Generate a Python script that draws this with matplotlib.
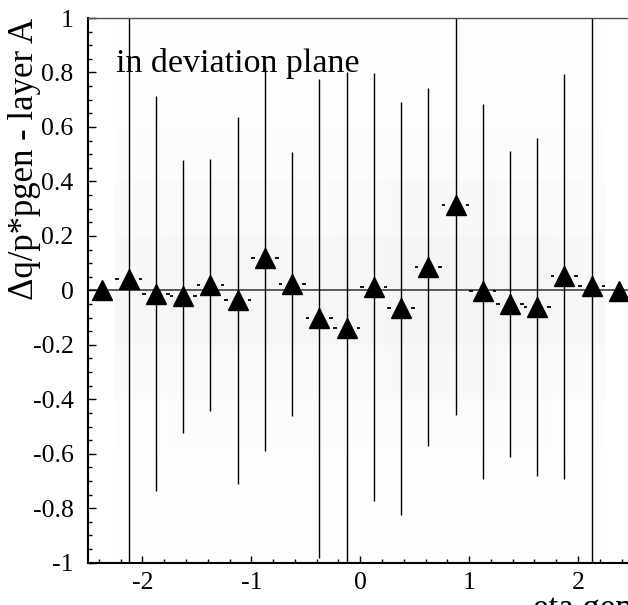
"""Profile of charge/momentum deviation vs generated eta, layer A.
"""
import matplotlib
matplotlib.use('agg')
import matplotlib.pyplot as plt
from matplotlib.ticker import MultipleLocator, FuncFormatter
from matplotlib.colors import LinearSegmentedColormap
import numpy as np

plt.rcParams['font.family'] = ['Liberation Serif', 'DejaVu Serif']
plt.rcParams['axes.unicode_minus'] = False

# profile bins (eta gen)
eta_centers = [-2.375, -2.125, -1.875, -1.625, -1.375, -1.125, -0.875, -0.625,
               -0.375, -0.125, 0.125, 0.375, 0.625, 0.875, 1.125, 1.375,
               1.625, 1.875, 2.125, 2.375]
bin_half_width = 0.125
dq_mean = [0.0, 0.04, -0.012, -0.022, 0.021, -0.037, 0.118, 0.024,
           -0.103, -0.140, 0.012, -0.066, 0.086, 0.315, -0.004, -0.051,
           -0.061, 0.051, 0.017, -0.001]
dq_spread = [0.0, 1.2, 0.726, 0.501, 0.463, 0.675, 0.707, 0.484,
             0.88, 0.94, 0.786, 0.759, 0.657, 0.773, 0.69, 0.561,
             0.619, 0.744, 1.2, 0.0]

# faint scatter underneath, as rough relative density per cell
dens_eta_edges = [-2.25, -1.75, -1.25, -0.75, -0.25, 0.25, 0.75, 1.25, 1.75, 2.25]
dens_y_edges = [-1.0, -0.8, -0.6, -0.4, -0.2, 0.0, 0.2, 0.4, 0.6, 0.8, 1.0]
dens_counts = [
    [0.05, 0.05, 0.08, 0.08, 0.10, 0.08, 0.08, 0.05, 0.05],
    [0.10, 0.10, 0.12, 0.12, 0.12, 0.10, 0.12, 0.12, 0.10],
    [0.20, 0.25, 0.25, 0.25, 0.25, 0.30, 0.30, 0.25, 0.20],
    [0.45, 0.55, 0.55, 0.50, 0.55, 0.60, 0.65, 0.55, 0.45],
    [0.70, 0.80, 0.80, 0.75, 0.80, 0.85, 0.90, 0.80, 0.70],
    [0.65, 0.75, 0.75, 0.70, 0.80, 0.85, 0.90, 0.75, 0.65],
    [0.40, 0.50, 0.50, 0.45, 0.55, 0.60, 0.60, 0.50, 0.40],
    [0.25, 0.30, 0.30, 0.30, 0.35, 0.35, 0.35, 0.30, 0.25],
    [0.12, 0.15, 0.15, 0.15, 0.18, 0.18, 0.18, 0.15, 0.12],
    [0.08, 0.08, 0.10, 0.10, 0.10, 0.10, 0.10, 0.08, 0.08],
]

ylabel = '\u0394q/p*pgen - layer A'
xlabel = 'eta gen'
note = 'in deviation plane'


def tick_fmt(v, pos):
    return '%g' % (round(v, 6) + 0.0)


def plot_background(ax):
    cmap = LinearSegmentedColormap.from_list('speckle', ['white', '0.955'])
    ax.pcolormesh(dens_eta_edges, dens_y_edges, np.array(dens_counts),
        cmap=cmap, vmin=0, vmax=1, shading='flat', zorder=0)


def plot_profile(ax):
    x = np.array(eta_centers)
    y = np.array(dq_mean)
    e = np.array(dq_spread)
    has_err = e > 0

    ax.axhline(0, color='0.3', lw=1.3, zorder=1)

    ax.vlines(x[has_err], (y - e)[has_err], (y + e)[has_err],
        color='black', lw=1.0, zorder=2)

    # ROOT leaves a gap around the marker on the x error bar
    gap = 0.092
    ax.hlines(y[has_err], (x - bin_half_width)[has_err], (x - gap)[has_err],
        color='black', lw=1.3, zorder=2)
    ax.hlines(y[has_err], (x + gap)[has_err], (x + bin_half_width)[has_err],
        color='black', lw=1.3, zorder=2)

    ax.plot(x, y, linestyle='none', marker='^', markersize=14.4,
        color='black', zorder=3)


def style_axes(ax):
    ax.set_xlim(-2.5, 2.5)
    ax.set_ylim(-1, 1)

    ax.xaxis.set_major_locator(MultipleLocator(1))
    ax.xaxis.set_minor_locator(MultipleLocator(0.2))
    ax.yaxis.set_major_locator(MultipleLocator(0.2))
    ax.yaxis.set_minor_locator(MultipleLocator(0.05))
    ax.xaxis.set_major_formatter(FuncFormatter(tick_fmt))
    ax.yaxis.set_major_formatter(FuncFormatter(tick_fmt))

    ax.tick_params(which='both', direction='in', top=False, right=False,
        labelsize=18.5, width=1.0, color='black')
    ax.tick_params(which='major', length=5.4)
    ax.tick_params(which='minor', length=2.9)
    ax.tick_params(axis='y', pad=10.5)
    ax.tick_params(axis='x', pad=7)

    for side in ['left', 'bottom']:
        ax.spines[side].set_linewidth(1.5)
    ax.spines['top'].set_linewidth(1.0)
    ax.spines['top'].set_color('0.3')
    ax.spines['right'].set_visible(False)


def main():
    fig = plt.figure(figsize=(6.28, 6.05), dpi=100)
    ax = fig.add_axes([0.1401, 0.0699, 0.867, 0.9003])

    plot_background(ax)
    plot_profile(ax)
    style_axes(ax)

    ax.text(-2.24, 0.80, note, fontsize=24.5, ha='left', va='baseline', zorder=4)
    fig.text(25 / 628, 1 - 18 / 605, ylabel, rotation=90, fontsize=25,
        ha='center', va='top')
    fig.text(533 / 628, 1 - 593 / 605, xlabel, fontsize=25,
        ha='left', va='top')

    filename = 'out.png'
    print('Writing ', filename)
    fig.savefig(filename, dpi=100)


if __name__ == '__main__':
    main()
